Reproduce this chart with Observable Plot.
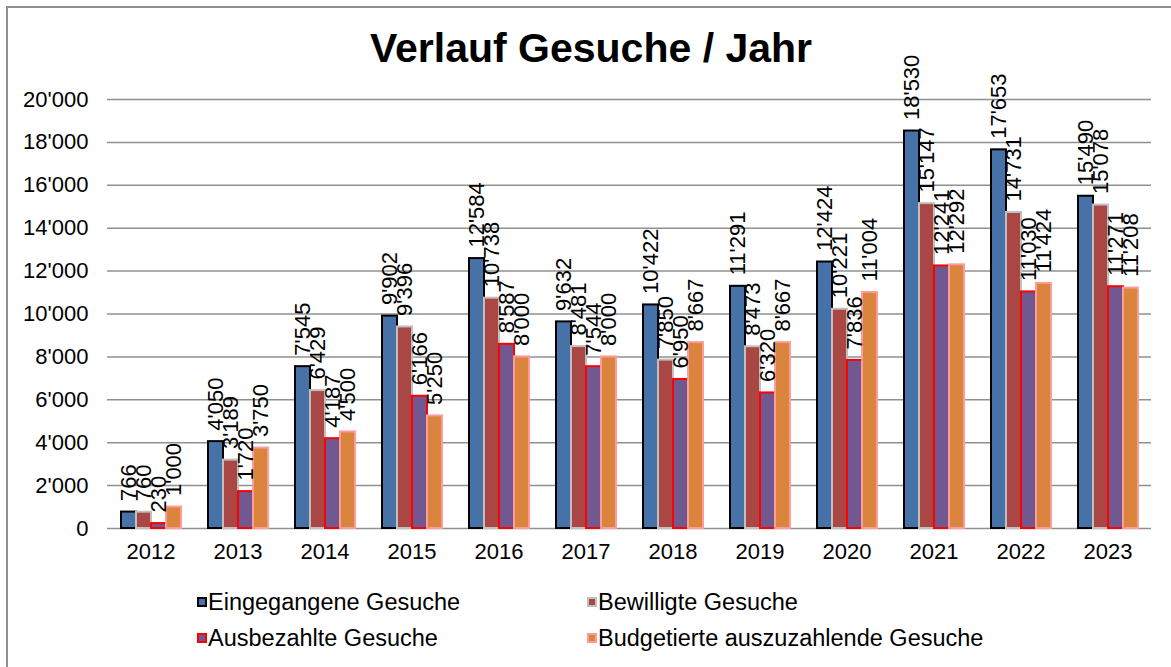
<!DOCTYPE html>
<html>
<head>
<meta charset="utf-8">
<script src="https://cdn.jsdelivr.net/npm/d3@7"></script>
<script src="https://cdn.jsdelivr.net/npm/@observablehq/plot@0.6"></script>
<style>
  body { margin: 0; background: #fff; font-family: "Liberation Sans", Arial, sans-serif; }
  #wrap { position: relative; width: 1171px; height: 667px; overflow: hidden; background: #fff; }
  #frame { position: absolute; left: 6px; top: 6px; width: 1300px; height: 800px;
           border-left: 2px solid #8f8f8f; border-top: 2px solid #8f8f8f; box-sizing: border-box; }
  .layer { position: absolute; left: 0; top: 0; }
  #title { position: absolute; left: 0; width: 1182px; top: 28px; text-align: center;
           font-weight: bold; font-size: 41px; line-height: 41px; color: #000; white-space: nowrap; }
  .lg { position: absolute; font-size: 23.5px; line-height: 24px; color: #000; white-space: nowrap; }
  .sw { position: absolute; width: 10px; height: 10px; box-sizing: border-box; border: 2px solid; }
</style>
</head>
<body>
<div id="wrap">
  <div id="frame"></div>
  <div id="grid" class="layer"></div>
  <div id="chart" class="layer"></div>
  <div id="title">Verlauf Gesuche / Jahr</div>
  <div id="legend"></div>
</div>
<script>
// ---- data ----
const years = ["2012","2013","2014","2015","2016","2017","2018","2019","2020","2021","2022","2023"];
const seriesNames = ["Eingegangene Gesuche","Bewilligte Gesuche","Ausbezahlte Gesuche","Budgetierte auszuzahlende Gesuche"];
const eingegangen = [766, 4050, 7545, 9902, 12584, 9632, 10422, 11291, 12424, 18530, 17653, 15490];
const bewilligt   = [760, 3189, 6429, 9396, 10738, 8481, 7850, 8473, 10221, 15147, 14731, 15078];
const ausbezahlt  = [230, 1720, 4187, 6166, 8587, 7544, 6950, 6320, 7836, 12241, 11030, 11271];
const budgetiert  = [1000, 3750, 4500, 5250, 8000, 8000, 8667, 8667, 11004, 12292, 11424, 11208];
const yTicks = [0, 2000, 4000, 6000, 8000, 10000, 12000, 14000, 16000, 18000, 20000];
const fills   = ["#4672a8", "#aa4643", "#71588f", "#db843d"];
const strokes = ["#000000", "#c0c0c0", "#ff0000", "#ff9b9b"];

const seriesValues = [eingegangen, bewilligt, ausbezahlt, budgetiert];
const fmt = v => d3.format(",")(v).replace(/,/g, "'");

const table = [];
years.forEach((yr, i) => {
  seriesNames.forEach((s, j) => {
    table.push({year: yr, series: s, value: seriesValues[j][i], fill: fills[j], stroke: strokes[j]});
  });
});

const common = {
  width: 1171,
  height: 667,
  marginLeft: 107,
  marginRight: 20,
  marginTop: 99,
  marginBottom: 139,
  style: {fontFamily: "'Liberation Sans', Arial, sans-serif", fontSize: "22px", color: "#000", background: "transparent", overflow: "visible"}
};

// background layer: continuous horizontal gridlines
const grid = Plot.plot({
  ...common,
  y: {domain: [0, 20000], ticks: yTicks, axis: null},
  marks: [
    Plot.ruleY(yTicks, {stroke: "#909090", strokeWidth: 1.5})
  ]
});
document.getElementById("grid").appendChild(grid);

// foreground layer: bars, labels, axes
const chart = Plot.plot({
  ...common,
  fx: {domain: years, paddingInner: 0.28, paddingOuter: 0.14, label: null, tickSize: 0, tickPadding: 15, axis: "bottom"},
  x: {domain: seriesNames, padding: 0, axis: null},
  y: {domain: [0, 20000], ticks: yTicks, tickFormat: fmt, tickSize: 0, tickPadding: 31, label: null},
  color: {type: "identity"},
  marks: [
    Plot.barY(table, {fx: "year", x: "series", y: "value", fill: "fill", stroke: "stroke", strokeWidth: 2}),
    Plot.text(table, {fx: "year", x: "series", y: "value", text: d => fmt(d.value),
      rotate: -90, textAnchor: "start", lineAnchor: "middle", dy: -11, fontSize: 22, fill: "#000"})
  ]
});
document.getElementById("chart").appendChild(chart);

// legend
const lgPos = [[197, 590], [587, 590], [197, 626], [587, 626]];
const legend = document.getElementById("legend");
seriesNames.forEach((s, j) => {
  const [lx, ly] = lgPos[j];
  const sw = document.createElement("div");
  sw.className = "sw";
  sw.style.left = lx + "px";
  sw.style.top = (ly + 7) + "px";
  sw.style.background = fills[j];
  sw.style.borderColor = strokes[j];
  legend.appendChild(sw);
  const t = document.createElement("div");
  t.className = "lg";
  t.style.left = (lx + 11) + "px";
  t.style.top = ly + "px";
  t.textContent = s;
  legend.appendChild(t);
});
</script>
</body>
</html>
